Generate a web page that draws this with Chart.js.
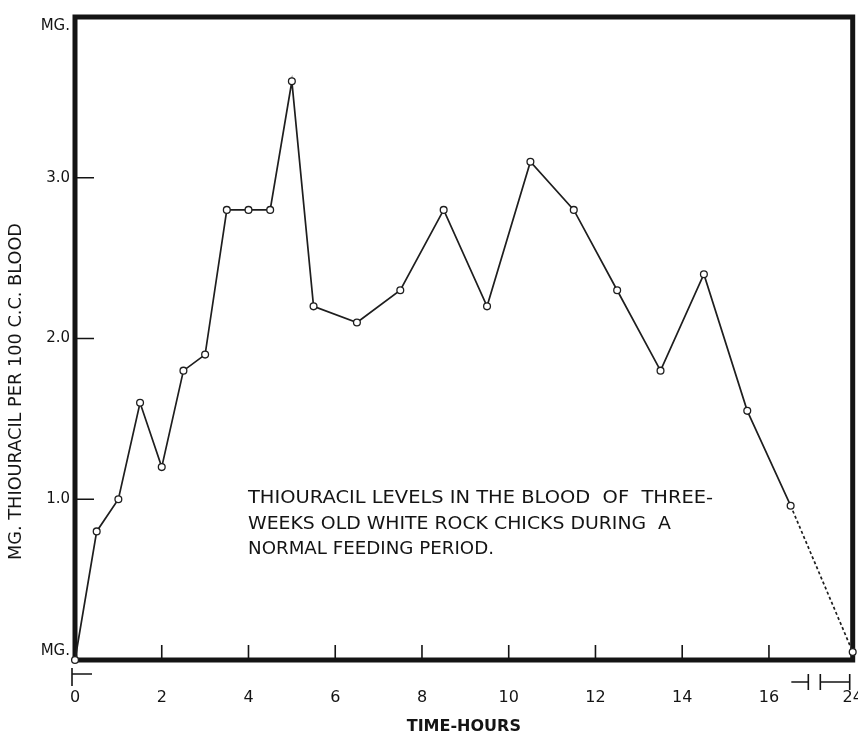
<!DOCTYPE html>
<html>
<head>
<meta charset="utf-8">
<title>Thiouracil levels in the blood</title>
<script src="https://cdn.jsdelivr.net/npm/chart.js@4.4.1/dist/chart.umd.min.js"></script>
<style>
  html, body { margin: 0; padding: 0; background: #fff; }
  #wrap { width: 858px; height: 737px; position: relative; }
</style>
</head>
<body>
<div id="wrap"><canvas id="chart"></canvas></div>
<script>
// sampling times (hours) and blood levels (mg thiouracil per 100 cc)
const hours = [0, 0.5, 1, 1.5, 2, 2.5, 3, 3.5, 4, 4.5, 5, 5.5, 6.5, 7.5, 8.5, 9.5, 10.5, 11.5, 12.5, 13.5, 14.5, 15.5, 16.5, 24];
const thiouracil = [0, 0.8, 1.0, 1.6, 1.2, 1.8, 1.9, 2.8, 2.8, 2.8, 3.6, 2.2, 2.1, 2.3, 2.8, 2.2, 3.1, 2.8, 2.3, 1.8, 2.4, 1.55, 0.96, 0.05];
const hourTicks = [0, 2, 4, 6, 8, 10, 12, 14, 16, 24];
const mgTicks = [0, 1, 2, 3, 4];
const yTitle = 'MG. THIOURACIL PER 100 C.C. BLOOD';
const note = [
  'THIOURACIL LEVELS IN THE BLOOD  OF  THREE-',
  'WEEKS OLD WHITE ROCK CHICKS DURING  A',
  'NORMAL FEEDING PERIOD.'
];

const BREAK_AT = 17;          // time axis is cut after 17 h
const BREAK_SQUEEZE = 0.133;  // 17 h .. 24 h folded into a short stub

// linear scale with a cut: values past BREAK_AT are squeezed together
class BrokenLinearScale extends Chart.LinearScale {
  static id = 'brokenLinear';
  static defaults = Chart.LinearScale.defaults;
  squeeze(v) { return v <= BREAK_AT ? v : BREAK_AT + (v - BREAK_AT) * BREAK_SQUEEZE; }
  unsqueeze(p) { return p <= BREAK_AT ? p : BREAK_AT + (p - BREAK_AT) / BREAK_SQUEEZE; }
  getPixelForValue(v) {
    const lo = this.squeeze(this.min), hi = this.squeeze(this.max);
    return this.getPixelForDecimal((this.squeeze(v) - lo) / (hi - lo));
  }
  getValueForPixel(px) {
    const lo = this.squeeze(this.min), hi = this.squeeze(this.max);
    return this.unsqueeze(lo + this.getDecimalForPixel(px) * (hi - lo));
  }
}
Chart.register(BrokenLinearScale);

const INK = '#141414';

function fitText(ctx, text, x, y, width) {
  const w = ctx.measureText(text).width;
  ctx.save();
  ctx.translate(x, y);
  ctx.scale(width / w, 1);
  ctx.fillText(text, 0, 0);
  ctx.restore();
}

// heavy frame, inward ticks, axis-break marks, side title and caption
const frame = {
  id: 'frame',
  beforeDatasetsDraw(chart) {
    const { ctx, chartArea: a, scales: { x, y } } = chart;
    ctx.save();
    ctx.strokeStyle = INK;
    ctx.lineWidth = 5;
    ctx.strokeRect(a.left, a.top, a.right - a.left, a.bottom - a.top);

    ctx.lineWidth = 1.6;
    ctx.beginPath();
    hourTicks.forEach(h => {
      if (h === 0 || h === 24) return;
      const px = x.getPixelForValue(h);
      ctx.moveTo(px, a.bottom);
      ctx.lineTo(px, a.bottom - 15);
    });
    mgTicks.forEach(v => {
      if (v === 0 || v === 4) return;
      const py = y.getPixelForValue(v);
      ctx.moveTo(a.left, py);
      ctx.lineTo(a.left + 19, py);
    });

    // start bracket under the origin
    const x0 = x.getPixelForValue(0) - 3;
    ctx.moveTo(x0, a.bottom + 8);
    ctx.lineTo(x0, a.bottom + 26);
    ctx.moveTo(x0, a.bottom + 14);
    ctx.lineTo(x0 + 20, a.bottom + 14);

    // cut marks between 17 h and 24 h
    const xb = x.getPixelForValue(BREAK_AT);
    const xe = x.getPixelForValue(24) - 3;
    const yb = a.bottom + 22;
    ctx.moveTo(xb - 21, yb);
    ctx.lineTo(xb - 4, yb);
    ctx.moveTo(xb - 4, yb - 8);
    ctx.lineTo(xb - 4, yb + 8);
    ctx.moveTo(xb + 8, yb - 8);
    ctx.lineTo(xb + 8, yb + 8);
    ctx.moveTo(xb + 8, yb);
    ctx.lineTo(xe, yb);
    ctx.moveTo(xe, yb - 8);
    ctx.lineTo(xe, yb + 8);
    ctx.stroke();
    ctx.restore();
  },
  afterDraw(chart) {
    const { ctx } = chart;
    ctx.save();
    ctx.fillStyle = INK;

    // rotated y-axis title
    ctx.save();
    ctx.translate(17, 392);
    ctx.rotate(-Math.PI / 2);
    ctx.font = '17px "DejaVu Sans"';
    ctx.textBaseline = 'middle';
    fitText(ctx, yTitle, -168, 0, 337);
    ctx.restore();

    // caption inside the plot
    ctx.font = '18px "DejaVu Sans"';
    ctx.textBaseline = 'alphabetic';
    const widths = [465, 423, 246];
    note.forEach((line, i) => fitText(ctx, line, 248, 503 + i * 25.5, widths[i]));
    ctx.restore();
  }
};

new Chart(document.getElementById('chart'), {
  type: 'line',
  data: {
    datasets: [{
      data: hours.map((h, i) => ({ x: h, y: thiouracil[i] })),
      borderColor: '#1e1e1e',
      borderWidth: 1.7,
      pointRadius: 3.4,
      pointBorderWidth: 1.3,
      pointBorderColor: '#1e1e1e',
      pointBackgroundColor: '#fff',
      tension: 0,
      clip: false,
      segment: {
        // last leg (16.5 h -> 24 h) is dotted
        borderDash: c => c.p1DataIndex === hours.length - 1 ? [3, 2.5] : undefined
      }
    }]
  },
  plugins: [frame],
  options: {
    responsive: true,
    maintainAspectRatio: false,
    animation: false,
    layout: { padding: { top: 17, right: 4, left: 0, bottom: 0 } },
    plugins: {
      legend: { display: false },
      tooltip: { enabled: false }
    },
    scales: {
      x: {
        type: 'brokenLinear',
        min: 0,
        max: 24,
        afterFit: s => { s.height = 77; s.paddingLeft = 0; s.paddingRight = 0; },
        afterBuildTicks: s => { s.ticks = hourTicks.map(v => ({ value: v })); },
        grid: { display: false, drawTicks: false },
        border: { display: false },
        ticks: {
          autoSkip: false,
          maxRotation: 0,
          padding: 28,
          color: INK,
          font: { family: 'DejaVu Sans', size: 16 },
          callback: v => String(v)
        },
        title: {
          display: true,
          text: 'TIME-HOURS',
          color: INK,
          font: { family: 'DejaVu Sans', size: 16, weight: 'bold' },
          padding: { top: 0, bottom: 1 }
        }
      },
      y: {
        min: 0,
        max: 4,
        afterFit: s => { s.width = 75; s.paddingTop = 0; s.paddingBottom = 0; },
        afterBuildTicks: s => { s.ticks = mgTicks.map(v => ({ value: v })); },
        grid: { display: false, drawTicks: false },
        border: { display: false },
        ticks: {
          padding: 5,
          color: INK,
          font: { family: 'DejaVu Sans', size: 15 },
          callback: v => v === 4 ? ['', 'MG.'] : v === 0 ? ['MG.', ''] : v.toFixed(1)
        }
      }
    }
  }
});
</script>
</body>
</html>
